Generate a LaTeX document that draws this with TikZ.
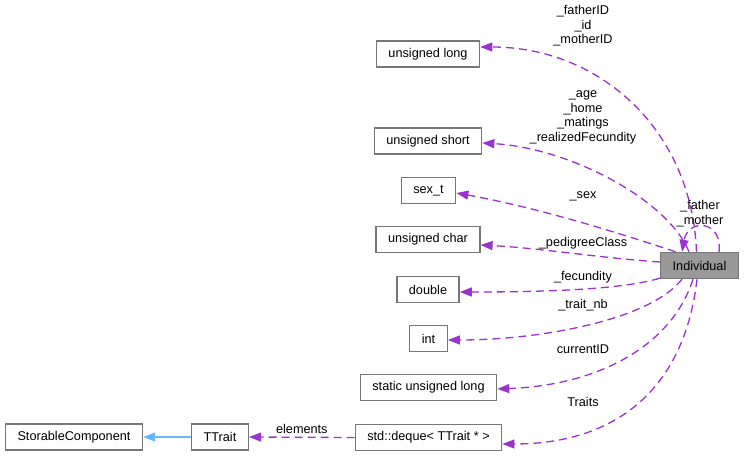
\documentclass[tikz,border=0pt]{standalone}
\usepackage{fontspec}
\setmainfont{Liberation Sans}
\usepackage{tikz}
\usetikzlibrary{positioning,arrows.meta,calc}
\usepackage{xcolor}
\definecolor{memberpurple}{HTML}{9A32CD}
\definecolor{inheritblue}{HTML}{63B8FF}
\definecolor{boxgray}{HTML}{777777}
\definecolor{mainfill}{HTML}{999999}

\begin{document}
\begin{tikzpicture}[
  x=1pt,y=-1pt,
  >={Triangle[length=12pt,width=9pt]},
  cls/.style={draw=boxgray,line width=1.4pt,fill=white,inner xsep=12pt,inner ysep=0pt,minimum height=26pt,font=\fontsize{12.7}{14.5}\selectfont},
  main/.style={cls,fill=mainfill},
  use/.style={->,memberpurple,line width=1.3pt,dash pattern=on 8pt off 5pt},
  inh/.style={->,inheritblue,line width=1.3pt},
  lab/.style={align=center,inner sep=0pt,text=black,font=\fontsize{12.7}{14.5}\selectfont}
]
\useasboundingbox (0,0) rectangle (744,455);

% LEFT COLUMN: member types
\node[cls] (ulong)  at (428,54)    {unsigned long};
\node[cls] (ushort) at (428,141)   {unsigned short};
\node[cls] (sext)   at (428.5,190.5) {sex\_t};
\node[cls] (uchar)  at (428,239.5) {unsigned char};
\node[cls] (dbl)    at (428,289.5) {double};
\node[cls] (intt)   at (428.5,338.5) {int};
\node[cls] (sulong) at (428.5,387.5) {static unsigned long};
\node[cls] (deque)  at (428.5,437.5) {std::deque< TTrait * >};

% BOTTOM ROW: trait chain
\node[cls] (ttrait)   at (220,437) {TTrait};
\node[cls] (storable) at (74,437)  {StorableComponent};

% RIGHT: the class itself
\node[main] (ind) at (699.5,265.5) {Individual};

% members of Individual
\draw[use] ([xshift=-3pt]ind.north) .. controls (692,130) and (600,47) .. ([yshift=7pt]ulong.east);
\draw[use] ([xshift=-10.5pt]ind.north) .. controls (668,200) and (570,148) .. ([yshift=-2pt]ushort.east);
\draw[use] ([xshift=-24pt]ind.north) .. controls (625,235) and (540,208) .. ([yshift=-2.5pt]sext.east);
\draw[use] ([yshift=3.5pt]ind.west) .. controls (600,258) and (540,248) .. ([yshift=-5.5pt]uchar.east);
\draw[use] ([yshift=1pt]ind.south west) .. controls (620,290) and (540,292) .. ([yshift=-2.5pt]dbl.east);
\draw[use] ([xshift=-17.5pt]ind.south) .. controls (650,320) and (540,340) .. ([yshift=-1.5pt]intt.east);
\draw[use] ([xshift=-6.5pt]ind.south) .. controls (672,345) and (600,385) .. ([yshift=-1.5pt]sulong.east);
\draw[use] ([xshift=-2.5pt]ind.south) .. controls (685,385) and (620,444) .. ([yshift=-6.5pt]deque.east);
\draw[use] ([xshift=19.5pt]ind.north) .. controls (723,220) and (688,218) .. ([xshift=-17.5pt]ind.north);

% member labels
\node[lab] (lbids)   at (583,26)    {\_fatherID\\\_id\\\_motherID};
\node[lab] (lbcount) at (583,117.5) {\_age\\\_home\\\_matings\\\_realizedFecundity};
\node[lab] (lbsex)   at (583,196)   {\_sex};
\node[lab] (lbped)   at (583,243)   {\_pedigreeClass};
\node[lab] (lbfec)   at (583,277)   {\_fecundity};
\node[lab] (lbnb)    at (583,305)   {\_trait\_nb};
\node[lab] (lbcur)   at (583,349)   {currentID};
\node[lab] (lbtr)    at (583,402)   {Traits};
\node[lab] (lbpar)   at (700,213.5) {\_father\\\_mother};

% trait chain
\draw[use] (deque.west) -- (ttrait.east) node[lab,midway,above=3pt] (lbel) {elements};
\draw[inh] (ttrait.west) -- (storable.east);

\end{tikzpicture}
\end{document}
